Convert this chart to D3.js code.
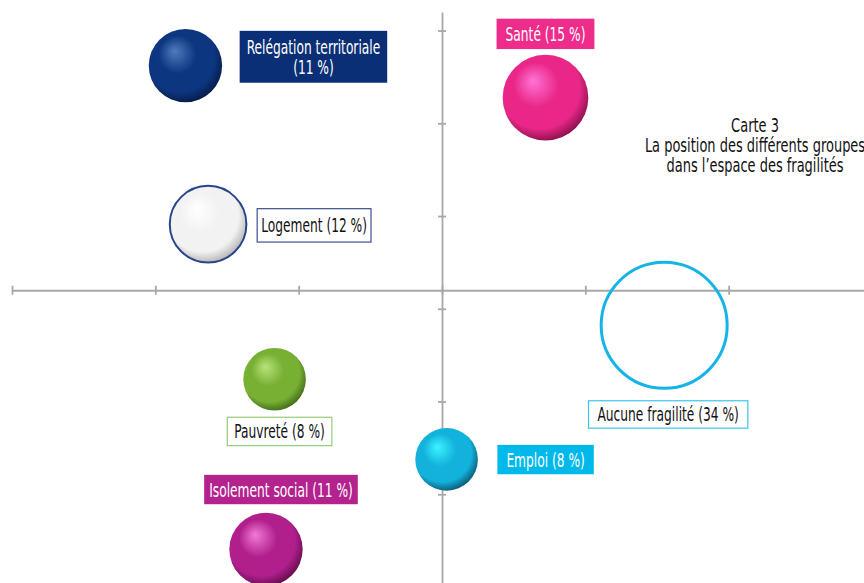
<!DOCTYPE html>
<html>
<head>
<meta charset="utf-8">
<script src="https://cdn.jsdelivr.net/npm/d3@7"></script>
<style>
  body { margin: 0; background: #fff; }
  svg { display: block; }
  text { font-family: 'DejaVu Sans Condensed', 'Liberation Sans Narrow', sans-serif; }
</style>
</head>
<body>
<div id="chart"></div>
<script>
// groups of the map
const groups = ['Relégation territoriale', 'Logement', 'Pauvreté', 'Isolement social', 'Emploi', 'Santé', 'Aucune fragilité']
const shares = [11, 12, 8, 11, 8, 15, 34]
const xValues = [-0.895, -0.816, -0.584, -0.614, 0.016, 0.361, 0.775]
const yValues = [1.311, 0.456, -0.38, -1.297, -0.812, 1.138, -0.089]

const xTicks = [-1.5, -1, -0.5, 0, 0.5, 1]
const yTicks = [-1, -0.5, 0, 0.5, 1, 1.5]
const xAxisAt = 0.1
const yAxisAt = 0

const titleLines = ['Carte 3', 'La position des différents groupes', 'dans l’espace des fragilités']

// styles and label placement (dx, dy = label box centre from bubble centre)
const styles = [
  { base: '#0c3680', light: '#4f7cbd', dark: '#061840', box: '#0b2f76', text: '#fff', border: null, dx: 128, dy: -9, padX: 7, padY: 4.5, lines: ['Relégation territoriale', '(11 %)'] },
  { base: '#f2f2f2', light: '#ffffff', dark: '#a9a9a9', box: '#fff', text: '#111', border: '#3b4f8f', ring: '#27478a', dx: 106, dy: 1, padX: 4, padY: 5 },
  { base: '#78b034', light: '#b8e47a', dark: '#3a6214', box: '#fff', text: '#111', border: '#95cc7a', dx: 5, dy: 52, padX: 7, padY: 2.5 },
  { base: '#b01f8c', light: '#f27ad6', dark: '#5a0a44', box: '#b3228d', text: '#fff', border: null, dx: 15, dy: -60, padX: 5, padY: 3 },
  { base: '#13b2dc', light: '#3cf4ff', dark: '#0a4c66', box: '#00b8ea', text: '#fff', border: null, dx: 99, dy: 0, padX: 9, padY: 3 },
  { base: '#ea2788', light: '#ff74d6', dark: '#7c0e46', box: '#ee2c8c', text: '#fff', border: null, dx: 0, dy: -64, padX: 9, padY: 3.5 },
  { ring: '#15b4e8', box: '#fff', text: '#111', border: '#3cc3ee', outline: true, dx: 4, dy: 89, padX: 9, padY: 2 }
]

const width = 864
const height = 583
const squeeze = 0.68

const svg = d3
  .select('#chart')
  .append('svg')
  .attr('width', width)
  .attr('height', height)

const xScale = d3.scaleLinear().domain([-1.5, 1.5]).range([12, 872])
const yScale = d3.scaleLinear().domain([-1.5, 1.6]).range([587, 12])
const rScale = d3.scaleSqrt().domain([0, 34]).range([0, 64.5])

// gradients for the shaded spheres
const defs = svg.append('defs')
styles.forEach((s, i) => {
  if (s.outline) return
  const g = defs
    .append('radialGradient')
    .attr('id', 'ball-' + i)
    .attr('cx', '45%')
    .attr('cy', '42%')
    .attr('r', '62%')
    .attr('fx', '35%')
    .attr('fy', '30%')
  g.append('stop').attr('offset', '0%').attr('stop-color', s.light)
  g.append('stop').attr('offset', '42%').attr('stop-color', s.base)
  g.append('stop').attr('offset', '76%').attr('stop-color', s.base)
  g.append('stop').attr('offset', '100%').attr('stop-color', s.dark)
})

// axes
const xAxis = d3
  .axisBottom(xScale)
  .tickValues(xTicks)
  .tickSizeInner(9)
  .tickSizeOuter(0)
  .tickFormat('')

const yAxis = d3
  .axisLeft(yScale)
  .tickValues(yTicks)
  .tickSizeInner(9)
  .tickSizeOuter(0)
  .tickFormat('')

const gx = svg
  .append('g')
  .attr('class', 'x-axis')
  .attr('transform', 'translate(0,' + yScale(xAxisAt) + ')')
  .call(xAxis)
gx.selectAll('.tick line').attr('y1', -4.5).attr('y2', 4.5)

const gy = svg
  .append('g')
  .attr('class', 'y-axis')
  .attr('transform', 'translate(' + xScale(yAxisAt) + ',0)')
  .call(yAxis)
gy.selectAll('.tick line').attr('x1', -4).attr('x2', 4)

svg.selectAll('.domain, .tick line')
  .attr('stroke', '#a8a8a8')
  .attr('stroke-width', 1.8)

// bubbles
const datapoints = groups.map((name, i) => ({
  name: name,
  share: shares[i],
  x: xValues[i],
  y: yValues[i],
  style: styles[i]
}))

svg
  .selectAll('.bubble')
  .data(datapoints)
  .enter()
  .append('circle')
  .attr('class', 'bubble')
  .attr('cx', d => xScale(d.x))
  .attr('cy', d => yScale(d.y))
  .attr('r', d => rScale(d.share) - (d.style.outline ? 1.5 : 0))
  .attr('fill', (d, i) => (d.style.outline ? 'none' : 'url(#ball-' + i + ')'))
  .attr('stroke', d => d.style.ring || 'none')
  .attr('stroke-width', d => (d.style.outline ? 3 : d.style.ring ? 2 : 0))

// labels
const fontSize = 20
const lineHeight = 19.5

const labels = svg
  .selectAll('.label')
  .data(datapoints)
  .enter()
  .append('g')
  .attr('class', 'label')
  .attr('transform', d => 'translate(' + (xScale(d.x) + d.style.dx) + ',' + (yScale(d.y) + d.style.dy) + ')')

labels.each(function(d) {
  const g = d3.select(this)
  const lines = d.style.lines || [d.name + ' (' + d.share + ' %)']
  const rect = g.append('rect')
  const text = g
    .append('text')
    .attr('text-anchor', 'middle')
    .attr('font-size', fontSize)
    .attr('fill', d.style.text)
    .attr('transform', 'scale(' + squeeze + ',1)')
  lines.forEach((line, k) => {
    text
      .append('tspan')
      .attr('x', 0)
      .attr('y', (k - (lines.length - 1) / 2) * lineHeight + fontSize * 0.36)
      .text(line)
  })
  const box = text.node().getBBox()
  const padX = d.style.padX
  const padY = d.style.padY
  rect
    .attr('x', box.x * squeeze - padX)
    .attr('y', box.y - padY)
    .attr('width', box.width * squeeze + padX * 2)
    .attr('height', box.height + padY * 2)
    .attr('fill', d.style.box)
    .attr('stroke', d.style.border || 'none')
    .attr('stroke-width', 1.2)
})

// title block
svg
  .append('text')
  .attr('text-anchor', 'middle')
  .attr('font-size', 19.5)
  .attr('fill', '#111')
  .attr('transform', 'translate(755,0) scale(0.74,1)')
  .selectAll('tspan')
  .data(titleLines)
  .enter()
  .append('tspan')
  .attr('x', 0)
  .attr('y', (d, i) => 132 + i * 20)
  .text(d => d)
</script>
</body>
</html>
